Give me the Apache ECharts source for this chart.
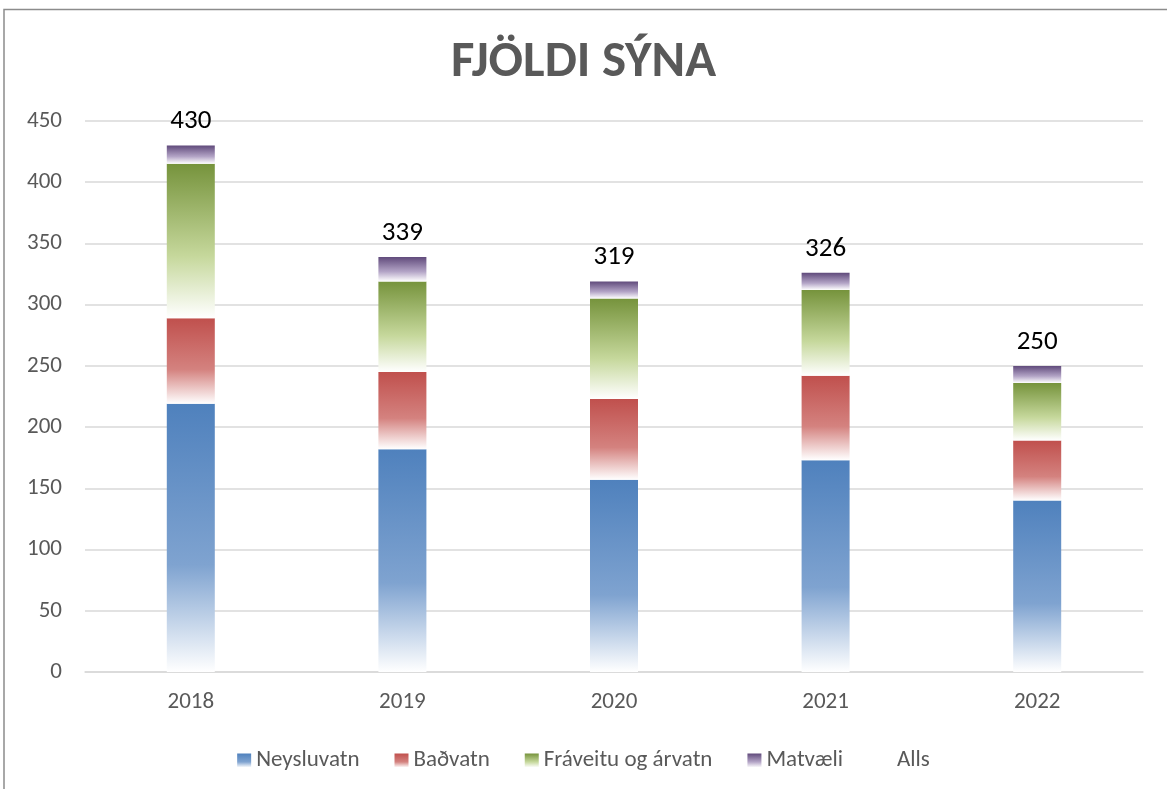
<!DOCTYPE html>
<html><head><meta charset="utf-8">
<script src="https://cdn.jsdelivr.net/npm/echarts@6/dist/echarts.min.js"></script>
<style>html,body{margin:0;padding:0;background:#fff}#c{width:1167px;height:789px}</style>
</head><body><div id="c"></div>
<script>
const categories = ['2018','2019','2020','2021','2022'];
const neysluvatn = [219,182,157,173,140];
const badvatn = [70,63,66,69,49];
const fraveitu = [126,74,82,70,47];
const matvaeli = [15,20,14,14,14];
const alls = [430,339,319,326,250];
const seriesNames = ['Neysluvatn','Baðvatn','Fráveitu og árvatn','Matvæli','Alls'];

const font = "Carlito, 'Liberation Sans Narrow', 'Open Sans', sans-serif";
function grad(top, mid){
  return new echarts.graphic.LinearGradient(0,0,0,1,[
    {offset:0,color:top},{offset:0.6,color:mid},{offset:1,color:'#ffffff'}]);
}
const colors = [
  grad('#4F81BD','#7FA3D0'),
  grad('#C0504D','#D4827F'),
  grad('#76933C','#C6D89C'),
  grad('#604A7B','#B3A4C6')
];
const stacks = [neysluvatn,badvatn,fraveitu,matvaeli];
const series = stacks.map((d,i)=>({
  name: seriesNames[i], type:'bar', stack:'t', data:d, barWidth:48,
  itemStyle:{color:colors[i]}
}));
series.push({
  name:'Alls', type:'line', data:alls, symbol:'circle', symbolSize:1,
  itemStyle:{color:'rgba(0,0,0,0)'}, lineStyle:{opacity:0},
  label:{show:true, position:'top', distance:10, color:'#000', fontSize:27, fontFamily:font}
});
const chart = echarts.init(document.getElementById('c'));
chart.setOption({
  animation:false,
  title:{text:'FJÖLDI SÝNA', left:'center', top:33,
    textStyle:{fontSize:51, fontWeight:'bold', color:'#595959', fontFamily:font}},
  grid:{left:85, right:24, top:121, bottom:117},
  legend:{top:744, left:'center', itemWidth:14, itemHeight:14, itemGap:35,
    textStyle:{fontSize:23, color:'#595959', fontFamily:font},
    data:[
      {name:'Neysluvatn', icon:'rect'},
      {name:'Baðvatn', icon:'rect'},
      {name:'Fráveitu og árvatn', icon:'rect'},
      {name:'Matvæli', icon:'rect'},
      {name:'Alls', icon:'rect', itemStyle:{color:'rgba(0,0,0,0)'}}
    ]},
  xAxis:{type:'category', data:categories,
    axisLine:{lineStyle:{color:'#D9D9D9', width:1.5}}, axisTick:{show:false},
    axisLabel:{fontSize:23, color:'#595959', margin:19, fontFamily:font}},
  yAxis:{type:'value', min:0, max:450, interval:50,
    axisLine:{show:false}, axisTick:{show:false},
    splitLine:{lineStyle:{color:'#D9D9D9', width:1.5}},
    axisLabel:{fontSize:23, color:'#595959', margin:23, fontFamily:font}},
  graphic:[{type:'rect', shape:{x:4,y:9.5,width:1170,height:800}, style:{fill:'none', stroke:'#8C8C8C', lineWidth:1.5}, silent:true}],
  series:series
});
</script></body></html>
